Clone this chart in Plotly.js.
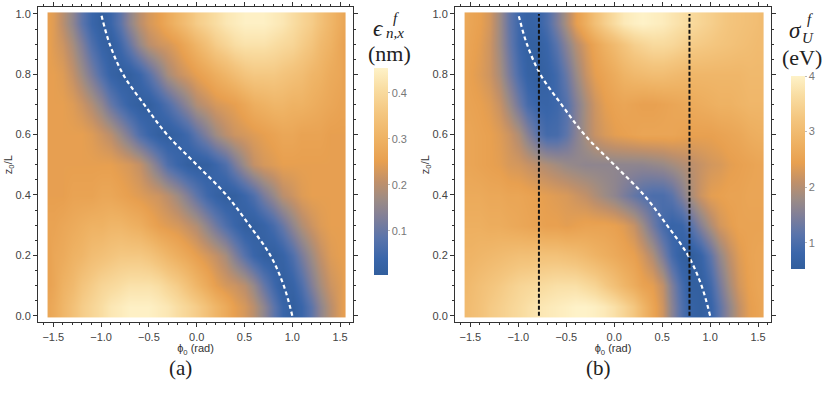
<!DOCTYPE html>
<html>
<head>
<meta charset="utf-8">
<script src="https://cdn.plot.ly/plotly-3.0.1.min.js"></script>
<style>
  html, body { margin: 0; padding: 0; background: #fff; }
  #chart { width: 830px; height: 396px; }
</style>
</head>
<body>
<div id="chart"></div>
<script>
// phi_0 columns (rad) and z_0/L rows of the two maps
const phi = [-1.54, -1.5, -1.4, -1.3, -1.2, -1.1, -1.0, -0.9, -0.8, -0.7, -0.6, -0.5, -0.4, -0.3, -0.2, -0.1,
  0, 0.1, 0.2, 0.3, 0.4, 0.5, 0.6, 0.7, 0.8, 0.9, 1.0, 1.1, 1.2, 1.3, 1.4, 1.5, 1.54];
const zRows = [0.03, 0.1, 0.2, 0.3, 0.4, 0.5, 0.6, 0.7, 0.8, 0.9, 0.97];

// (a) epsilon^f_{n,x} in nm, one row per zRows entry
const epsRows = [
  [0.27, 0.28, 0.31, 0.34, 0.37, 0.39, 0.41, 0.43, 0.44, 0.45, 0.45, 0.45, 0.44, 0.43, 0.41, 0.39, 0.37, 0.34, 0.31, 0.28, 0.25, 0.23, 0.2, 0.15, 0.09, 0.04, 0.01, 0.04, 0.09, 0.15, 0.2, 0.24, 0.25],
  [0.26, 0.27, 0.3, 0.32, 0.35, 0.37, 0.39, 0.4, 0.41, 0.42, 0.42, 0.42, 0.41, 0.39, 0.37, 0.34, 0.31, 0.28, 0.25, 0.23, 0.22, 0.2, 0.16, 0.1, 0.05, 0.01, 0.03, 0.07, 0.13, 0.18, 0.22, 0.24, 0.25],
  [0.26, 0.27, 0.28, 0.3, 0.31, 0.33, 0.34, 0.35, 0.36, 0.36, 0.36, 0.35, 0.33, 0.31, 0.29, 0.27, 0.25, 0.23, 0.21, 0.18, 0.13, 0.08, 0.04, 0.015, 0.01, 0.03, 0.07, 0.12, 0.17, 0.21, 0.24, 0.25, 0.25],
  [0.26, 0.26, 0.27, 0.28, 0.29, 0.3, 0.3, 0.31, 0.31, 0.3, 0.29, 0.27, 0.25, 0.24, 0.23, 0.21, 0.19, 0.15, 0.11, 0.07, 0.04, 0.012, 0.012, 0.03, 0.06, 0.1, 0.15, 0.19, 0.22, 0.24, 0.25, 0.25, 0.25],
  [0.25, 0.25, 0.25, 0.26, 0.26, 0.26, 0.27, 0.27, 0.26, 0.25, 0.24, 0.23, 0.22, 0.2, 0.17, 0.13, 0.09, 0.05, 0.025, 0.01, 0.015, 0.04, 0.07, 0.12, 0.16, 0.2, 0.22, 0.24, 0.25, 0.25, 0.25, 0.25, 0.25],
  [0.25, 0.25, 0.25, 0.25, 0.25, 0.25, 0.25, 0.25, 0.24, 0.23, 0.21, 0.17, 0.12, 0.07, 0.04, 0.015, 0.01, 0.015, 0.04, 0.07, 0.12, 0.17, 0.21, 0.23, 0.24, 0.25, 0.25, 0.25, 0.25, 0.25, 0.25, 0.25, 0.25],
  [0.25, 0.25, 0.25, 0.25, 0.25, 0.24, 0.22, 0.2, 0.16, 0.12, 0.07, 0.04, 0.015, 0.01, 0.025, 0.05, 0.09, 0.13, 0.17, 0.2, 0.22, 0.23, 0.24, 0.25, 0.26, 0.27, 0.27, 0.26, 0.26, 0.26, 0.25, 0.25, 0.25],
  [0.25, 0.25, 0.25, 0.24, 0.22, 0.19, 0.15, 0.1, 0.06, 0.03, 0.012, 0.012, 0.04, 0.07, 0.11, 0.15, 0.19, 0.21, 0.23, 0.24, 0.25, 0.27, 0.29, 0.3, 0.31, 0.31, 0.3, 0.3, 0.29, 0.28, 0.27, 0.26, 0.26],
  [0.25, 0.25, 0.24, 0.21, 0.17, 0.12, 0.07, 0.03, 0.01, 0.015, 0.04, 0.08, 0.13, 0.18, 0.21, 0.23, 0.25, 0.27, 0.29, 0.31, 0.33, 0.35, 0.36, 0.36, 0.36, 0.35, 0.34, 0.33, 0.31, 0.3, 0.28, 0.27, 0.26],
  [0.25, 0.24, 0.22, 0.18, 0.13, 0.07, 0.03, 0.01, 0.05, 0.1, 0.16, 0.2, 0.22, 0.23, 0.25, 0.28, 0.31, 0.34, 0.37, 0.39, 0.41, 0.42, 0.42, 0.42, 0.41, 0.4, 0.39, 0.37, 0.35, 0.32, 0.3, 0.27, 0.26],
  [0.25, 0.24, 0.2, 0.15, 0.09, 0.04, 0.01, 0.04, 0.09, 0.15, 0.2, 0.23, 0.25, 0.28, 0.31, 0.34, 0.37, 0.39, 0.41, 0.43, 0.44, 0.45, 0.45, 0.45, 0.44, 0.43, 0.41, 0.39, 0.37, 0.34, 0.31, 0.28, 0.27]
];

// (b) sigma^f_U in eV, one row per zRows entry
const sigmaRows = [
  [3.0, 3.05, 3.15, 3.3, 3.4, 3.5, 3.6, 3.7, 3.8, 3.85, 3.9, 3.95, 4.0, 4.0, 3.95, 3.85, 3.7, 3.5, 3.25, 2.9, 2.55, 2.2, 1.6, 1.05, 0.7, 0.6, 0.75, 1.2, 1.7, 2.1, 2.4, 2.5, 2.55],
  [2.95, 3.0, 3.1, 3.2, 3.3, 3.4, 3.5, 3.55, 3.6, 3.65, 3.7, 3.7, 3.7, 3.6, 3.5, 3.3, 3.1, 2.9, 2.7, 2.5, 2.4, 2.1, 1.5, 0.95, 0.6, 0.6, 0.9, 1.4, 1.9, 2.25, 2.45, 2.55, 2.55],
  [2.85, 2.85, 2.9, 2.95, 3.0, 3.05, 3.1, 3.1, 3.15, 3.15, 3.15, 3.1, 3.05, 2.95, 2.85, 2.75, 2.65, 2.55, 2.45, 2.25, 1.95, 1.45, 0.95, 0.62, 0.53, 0.75, 1.2, 1.7, 2.1, 2.35, 2.5, 2.55, 2.55],
  [2.75, 2.75, 2.75, 2.7, 2.7, 2.65, 2.6, 2.55, 2.5, 2.45, 2.45, 2.4, 2.45, 2.5, 2.5, 2.5, 2.45, 2.35, 2.15, 1.8, 1.35, 0.95, 0.75, 0.8, 1.1, 1.55, 1.95, 2.25, 2.4, 2.5, 2.5, 2.5, 2.5],
  [2.65, 2.65, 2.65, 2.6, 2.6, 2.55, 2.55, 2.5, 2.45, 2.4, 2.35, 2.3, 2.2, 2.1, 1.95, 1.8, 1.65, 1.45, 1.25, 1.1, 1.0, 1.0, 1.15, 1.5, 1.9, 2.2, 2.4, 2.45, 2.5, 2.5, 2.55, 2.55, 2.55],
  [2.55, 2.55, 2.5, 2.45, 2.4, 2.3, 2.25, 2.15, 2.05, 1.95, 1.85, 1.75, 1.7, 1.65, 1.65, 1.65, 1.65, 1.65, 1.65, 1.65, 1.7, 1.75, 1.85, 1.95, 2.05, 2.15, 2.25, 2.3, 2.4, 2.45, 2.5, 2.55, 2.55],
  [2.55, 2.55, 2.5, 2.45, 2.35, 2.2, 1.95, 1.55, 1.15, 0.92, 0.95, 1.2, 1.55, 1.9, 2.15, 2.3, 2.4, 2.45, 2.5, 2.55, 2.55, 2.55, 2.55, 2.5, 2.45, 2.45, 2.45, 2.5, 2.55, 2.6, 2.7, 2.75, 2.75],
  [2.5, 2.5, 2.45, 2.35, 2.15, 1.8, 1.35, 0.95, 0.78, 0.75, 0.85, 1.1, 1.5, 1.9, 2.2, 2.4, 2.5, 2.55, 2.5, 2.45, 2.45, 2.5, 2.55, 2.6, 2.65, 2.7, 2.75, 2.8, 2.8, 2.85, 2.9, 2.9, 2.9],
  [2.5, 2.45, 2.35, 2.2, 1.9, 1.45, 1.0, 0.7, 0.6, 0.68, 0.9, 1.3, 1.75, 2.15, 2.4, 2.55, 2.7, 2.85, 2.95, 3.0, 3.05, 3.05, 3.0, 2.95, 2.9, 2.9, 2.9, 2.9, 2.9, 2.9, 2.95, 2.95, 2.95],
  [2.55, 2.5, 2.4, 2.2, 1.8, 1.3, 0.85, 0.62, 0.62, 0.8, 1.15, 1.6, 2.0, 2.3, 2.55, 2.8, 3.0, 3.2, 3.4, 3.5, 3.6, 3.6, 3.55, 3.45, 3.35, 3.3, 3.25, 3.2, 3.15, 3.1, 3.05, 3.0, 3.0],
  [2.6, 2.55, 2.45, 2.25, 1.8, 1.25, 0.85, 0.7, 0.75, 1.0, 1.45, 1.95, 2.4, 2.75, 3.1, 3.4, 3.65, 3.85, 3.95, 4.0, 3.95, 3.9, 3.8, 3.7, 3.6, 3.5, 3.4, 3.3, 3.2, 3.15, 3.1, 3.05, 3.0]
];

// white dashed curve (same in both panels)
const curveZ = [0, 0.1, 0.2, 0.3, 0.4, 0.5, 0.6, 0.7, 0.8, 0.9, 1.0];
const curvePhi = [1.0, 0.91, 0.77, 0.55, 0.31, 0.0, -0.31, -0.55, -0.77, -0.91, -1.0];

// black dashed cuts in panel (b)
const cutPhi = [-0.785, 0.785];
const cutZ = [0, 1];

// ticks
const phiTicks = [-1.5, -1.0, -0.5, 0, 0.5, 1.0, 1.5];
const zTicks = [0, 0.2, 0.4, 0.6, 0.8, 1.0];
const epsTicks = [0.1, 0.2, 0.3, 0.4];
const sigmaTicks = [1, 2, 3, 4];

const W = 830, H = 396;
const px = v => v / W;
const py = v => 1 - v / H;

const colorscale = [
  [0, '#315e9d'], [0.08, '#3a66aa'], [0.18, '#5a74ab'], [0.28, '#817f98'],
  [0.36, '#9b8b86'], [0.45, '#c0906a'], [0.55, '#e8a050'], [0.65, '#eeb162'],
  [0.78, '#f4c67f'], [0.9, '#f9dda2'], [1, '#fef2c8']
];

const sans = 'Liberation Sans, Arial, sans-serif';
const serif = 'Liberation Serif, Times New Roman, serif';

function xAxis(domain) {
  return {
    domain: domain,
    range: [-1.66, 1.635],
    tickvals: phiTicks,
    tickformat: '.1f',
    showline: true, linecolor: '#333', linewidth: 1, mirror: 'ticks',
    ticks: 'outside', ticklen: 4, tickcolor: '#333',
    minor: {tickmode: 'linear', tick0: 0, dtick: 0.1, ticks: 'outside', ticklen: 2, tickcolor: '#333'},
    showgrid: false, zeroline: false,
    tickfont: {family: sans, size: 11, color: '#444'},
    title: {text: 'ϕ<sub>0</sub> (rad)', font: {family: sans, size: 11, color: '#333'}, standoff: 0}
  };
}

function yAxis(anchor) {
  return {
    anchor: anchor,
    domain: [1 - 322.3 / H, 1 - 7 / H],
    range: [-0.022, 1.023],
    tickvals: zTicks,
    tickformat: '.1f',
    showline: true, linecolor: '#333', linewidth: 1, mirror: 'ticks',
    ticks: 'outside', ticklen: 4, tickcolor: '#333',
    minor: {tickmode: 'linear', tick0: 0, dtick: 0.05, ticks: 'outside', ticklen: 2, tickcolor: '#333'},
    showgrid: false, zeroline: false,
    tickfont: {family: sans, size: 11, color: '#444'},
    title: {text: 'z<sub>0</sub>/L', font: {family: sans, size: 11, color: '#333'}, standoff: 0}
  };
}

function colorbar(x, top, bottom, ticks, fmt) {
  return {
    x: px(x), xanchor: 'left', xpad: 0,
    y: py((top + bottom) / 2), yanchor: 'middle', ypad: 0,
    len: bottom - top, lenmode: 'pixels',
    thickness: 14, outlinewidth: 0,
    tickvals: ticks, tickformat: fmt,
    ticks: 'outside', ticklen: 2, tickcolor: '#bbb',
    tickfont: {family: sans, size: 11, color: '#777'}
  };
}

const data = [
  {
    type: 'heatmap', x: phi, y: zRows, z: epsRows,
    zmin: 0.004, zmax: 0.454, zsmooth: 'best', colorscale: colorscale,
    xaxis: 'x', yaxis: 'y', hoverinfo: 'skip',
    colorbar: colorbar(374, 68, 275, epsTicks, '.1f')
  },
  {
    type: 'heatmap', x: phi, y: zRows, z: sigmaRows,
    zmin: 0.53, zmax: 4.0, zsmooth: 'best', colorscale: colorscale,
    xaxis: 'x2', yaxis: 'y2', hoverinfo: 'skip',
    colorbar: colorbar(791, 76, 269, sigmaTicks, 'd')
  },
  {
    type: 'scatter', mode: 'lines', x: curvePhi, y: curveZ, xaxis: 'x', yaxis: 'y',
    line: {color: '#fff', width: 2.2, dash: '4px,3px', shape: 'spline'},
    showlegend: false, hoverinfo: 'skip'
  },
  {
    type: 'scatter', mode: 'lines', x: curvePhi, y: curveZ, xaxis: 'x2', yaxis: 'y2',
    line: {color: '#fff', width: 2.2, dash: '4px,3px', shape: 'spline'},
    showlegend: false, hoverinfo: 'skip'
  }
];

cutPhi.forEach(p => {
  data.push({
    type: 'scatter', mode: 'lines', x: [p, p], y: cutZ, xaxis: 'x2', yaxis: 'y2',
    line: {color: '#111', width: 2, dash: '4px,2px'},
    showlegend: false, hoverinfo: 'skip'
  });
});

function label(text, x, y, size, italic) {
  return {
    xref: 'paper', yref: 'paper', x: px(x), y: py(y),
    xanchor: 'center', yanchor: 'middle', showarrow: false,
    text: italic ? '<i>' + text + '</i>' : text,
    font: {family: serif, size: size, color: '#222'}
  };
}

const layout = {
  width: W, height: H,
  margin: {l: 0, r: 0, t: 0, b: 0},
  paper_bgcolor: '#fff', plot_bgcolor: '#fff',
  showlegend: false,
  xaxis: xAxis([38 / W, 353 / W]),
  yaxis: yAxis('x'),
  xaxis2: Object.assign(xAxis([455 / W, 771 / W]), {anchor: 'y2'}),
  yaxis2: yAxis('x2'),
  annotations: [
    label('ϵ', 378, 28, 23, true),
    label('f', 396, 18, 15, true),
    label('n,x', 395, 33, 15, true),
    label('(nm)', 389, 53, 22, false),
    label('σ', 795, 30, 23, true),
    label('f', 810, 19, 15, true),
    label('U', 808, 38, 15, true),
    label('(eV)', 802, 58, 22, false),
    label('(a)', 180, 368, 21, false),
    label('(b)', 598, 368, 21, false)
  ]
};

Plotly.newPlot('chart', data, layout, {displayModeBar: false, staticPlot: true});
</script>
</body>
</html>
